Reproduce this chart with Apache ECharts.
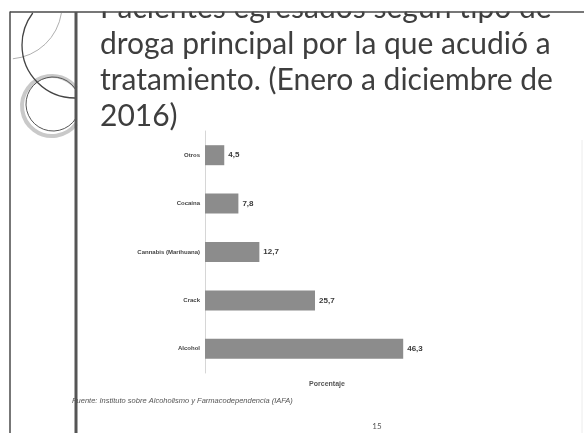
<!DOCTYPE html>
<html>
<head>
<meta charset="utf-8">
<script src="https://cdn.jsdelivr.net/npm/echarts@6/dist/echarts.min.js"></script>
<style>
html,body{margin:0;padding:0;background:#fff;}
#c{width:584px;height:433px;}
</style>
</head>
<body>
<div id="c"></div>
<script>
const titleLines = ['Pacientes egresados según tipo de', 'droga principal por la que acudió a', 'tratamiento. (Enero a diciembre de', '2016)'];
const categories = ['Alcohol', 'Crack', 'Cannabis (Marihuana)', 'Cocaína', 'Otros'];
const values = [46.3, 25.7, 12.7, 7.8, 4.5];
const axisName = 'Porcentaje';
const sourceText = 'Fuente: Instituto sobre Alcoholismo y Farmacodependencia (IAFA)';
const pageNumber = '15';

const chart = echarts.init(document.getElementById('c'), null, {renderer: 'canvas'});
const LINE = '#4a4a4a';
chart.setOption({
  backgroundColor: '#ffffff',
  animation: false,
  title: {
    text: titleLines.join('\n'),
    left: 95,
    top: -14.5,
    textStyle: {fontFamily: 'Lato', fontSize: 30, fontWeight: 'normal', lineHeight: 36, color: '#3e3e3e'}
  },
  grid: {left: 205, top: 131, width: 244, height: 242},
  xAxis: {
    type: 'value', min: 0, max: 57,
    show: true,
    axisLine: {show: false}, axisTick: {show: false}, axisLabel: {show: false}, splitLine: {show: false},
    name: axisName, nameLocation: 'middle', nameGap: 8,
    nameTextStyle: {fontFamily: 'Liberation Sans', fontSize: 7, fontWeight: 'bold', color: '#555'}
  },
  yAxis: {
    type: 'category', data: categories,
    axisLine: {show: true, lineStyle: {color: '#d6d6d6', width: 1}},
    axisTick: {show: false},
    axisLabel: {margin: 5, fontFamily: 'Liberation Sans', fontSize: 6, fontWeight: 'bold', color: '#444'}
  },
  series: [{
    type: 'bar', data: values, barWidth: 20,
    itemStyle: {color: '#8c8c8c'},
    label: {show: true, position: 'right', distance: 4, fontFamily: 'Liberation Sans', fontSize: 8, fontWeight: 'bold', color: '#3a3a3a',
      formatter: p => String(p.value).replace('.', ',')}
  }],
  graphic: [
    {type: 'rect', z: 100, shape: {x: 0, y: 0, width: 584, height: 11.5}, style: {fill: '#fff'}},
    {type: 'line', z: 101, shape: {x1: 10, y1: 12, x2: 584, y2: 12}, style: {stroke: LINE, lineWidth: 1.5}},
    {type: 'line', z: 101, shape: {x1: 10, y1: 11.5, x2: 10, y2: 433}, style: {stroke: LINE, lineWidth: 1.5}},
    {type: 'line', z: 101, shape: {x1: 582, y1: 140, x2: 582, y2: 433}, style: {stroke: '#ececec', lineWidth: 1}},
    {type: 'arc', z: 101, shape: {cx: 8, cy: 5, r: 54, startAngle: 0.15, endAngle: 1.48}, style: {stroke: '#b0b0b0', lineWidth: 1, fill: null}},
    {type: 'arc', z: 101, shape: {cx: 52, cy: 106, r: 30, startAngle: 0.64, endAngle: 2 * Math.PI - 0.64}, style: {stroke: '#c9c9c9', lineWidth: 4, fill: null}},
    {type: 'arc', z: 101, shape: {cx: 53, cy: 104, r: 27, startAngle: 0.55, endAngle: 2 * Math.PI - 0.55}, style: {stroke: '#555', lineWidth: 1, fill: null}},
    {type: 'arc', z: 101, shape: {cx: 75, cy: 45, r: 53, startAngle: Math.PI / 2, endAngle: 3.79}, style: {stroke: '#444', lineWidth: 1.3, fill: null}},
    {type: 'text', z: 100, style: {x: 72, y: 401, text: sourceText, font: 'italic 7.5px "Liberation Sans"', fill: '#555', textVerticalAlign: 'middle'}},
    {type: 'line', z: 102, shape: {x1: 76, y1: 12, x2: 76, y2: 433}, style: {stroke: '#555', lineWidth: 3}},
    {type: 'text', z: 100, style: {x: 377, y: 426, text: pageNumber, font: '8px Lato', fill: '#555', textAlign: 'center', textVerticalAlign: 'middle'}}
  ]
});
</script>
</body>
</html>
